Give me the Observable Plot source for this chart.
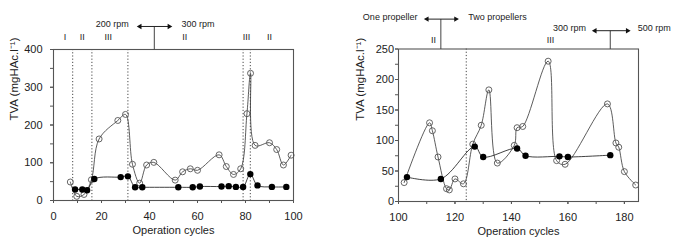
<!DOCTYPE html>
<html>
<head>
<meta charset="utf-8">
<script src="https://cdn.jsdelivr.net/npm/d3@7"></script>
<script src="https://cdn.jsdelivr.net/npm/@observablehq/plot@0.6"></script>
<style>
  html, body { margin: 0; padding: 0; background: white; }
  #wrap { position: relative; width: 679px; height: 252px; overflow: hidden; }
  #wrap > div, #wrap > svg { position: absolute; top: 0; }
</style>
</head>
<body>
<div id="wrap"></div>
<script>
// ---------- Data: left panel (cycles 0-100) ----------
const leftOpenX  = [7, 9.7, 12.7, 15.8, 19, 26.8, 30, 32.9, 35.9, 38.8, 41.8, 50.7, 53.8, 57, 60, 69, 72, 75, 78, 80.6, 82.1, 84, 90, 93, 95.8, 99];
const leftOpenY  = [49, 11, 16, 55, 163, 212, 228, 96, 46, 94, 101, 54, 76, 84, 80, 121, 90, 69, 84, 230, 337, 146, 153, 135, 94, 120];
const leftFillX  = [9, 12, 14, 17, 28, 31, 34, 37, 52, 58, 61, 70, 73, 76, 79, 82, 85, 91, 97];
const leftFillY  = [29, 29, 27, 57, 62, 64, 35, 35, 35, 35, 37, 37, 38, 36, 36, 70, 40, 36, 36];
const leftDividers = [8, 16, 31, 79, 82];
const leftPhaseLabels = ["I", "II", "III", "II", "III", "II"];
const leftPhaseX = [4.8, 12, 22.8, 54.7, 80.4, 90];
const leftXMajor = [0, 20, 40, 60, 80, 100];
const leftXMinor = [0, 10, 20, 30, 40, 50, 60, 70, 80, 90, 100];
const leftYMajor = [0, 100, 200, 300, 400];
const leftYMinor = [0, 50, 100, 150, 200, 250, 300, 350, 400];

// ---------- Data: right panel (cycles 100-185) ----------
const rightOpenX = [102, 111, 112, 114, 117, 118, 120, 123, 126.3, 129.3, 132, 135, 141, 142, 144, 153, 156, 159, 174, 177, 178, 180, 184];
const rightOpenY = [31, 129, 116, 73, 21, 19, 37, 29, 94, 125, 183, 63, 92, 121, 123, 230, 67, 61, 160, 96, 89, 49, 27];
const rightFillX = [103, 115, 127, 130, 142, 145, 157, 160, 175];
const rightFillY = [40, 37, 90, 73, 87, 75, 74, 73, 76];
const rightDividers = [124];
const rightPhaseLabels = ["II", "III"];
const rightPhaseX = [112.4, 153.8];
const rightXMajor = [100, 120, 140, 160, 180];
const rightXMinor = [100, 110, 120, 130, 140, 150, 160, 170, 180];
const rightYMajor = [0, 50, 100, 150, 200, 250];
const rightYMinor = [0, 25, 50, 75, 100, 125, 150, 175, 200, 225, 250];

// ---------- Annotations (in data units) ----------
const leftArrows = [{x: 42, yBase: 400, yTop: 461, xL: 36, xR: 48.2, leftText: "200 rpm", rightText: "300 rpm", xTextL: 31.4, xTextR: 53.3, yText: 466}];
const rightArrows = [
  {x: 115, yBase: 250, yTop: 299, xL: 110.1, xR: 120.3, leftText: "One propeller", rightText: "Two propellers", xTextL: 106.7, xTextR: 124.7, yText: 303},
  {x: 175, yBase: 250, yTop: 280, xL: 169.6, xR: 181.1, leftText: "300 rpm", rightText: "500 rpm", xTextL: 166.4, xTextR: 184.7, yText: 284}
];
const leftPhaseY = 432;
const rightPhaseY = 264;

const yLabel = "TVA (mgHAc.l\u207B\u00B9)";
const xLabel = "Operation cycles";
const font = "'Liberation Sans', Arial, Helvetica, sans-serif";

const zip = (xs, ys) => xs.map((x, i) => ({x, y: ys[i]}));

function panel(o) {
  const open = zip(o.openX, o.openY);
  const fill = zip(o.fillX, o.fillY);
  const phases = o.phaseLabels.map((t, i) => ({t, x: o.phaseX[i], y: o.phaseY}));
  const arrowHeads = o.arrows.flatMap(a => [{x: a.xL, y: a.yTop, r: -90}, {x: a.xR, y: a.yTop, r: 90}]);
  return Plot.plot({
    width: o.width, height: 252,
    marginLeft: o.ml, marginRight: o.mr, marginTop: o.mt, marginBottom: o.mb,
    style: {fontFamily: font, fontSize: "11px", color: "#222", background: "transparent", overflow: "visible"},
    x: {domain: o.xDomain, label: null},
    y: {domain: o.yDomain, label: null},
    marks: [
      Plot.ruleX(o.dividers, {stroke: "#333", strokeWidth: 0.9, strokeDasharray: "1.2,2"}),
      Plot.axisX({ticks: o.xMinor, tickFormat: () => "", tickSize: 3, stroke: "#555", label: null}),
      Plot.axisX({ticks: o.xMajor, tickSize: 3, tickPadding: 9, stroke: "#555", label: null, fontSize: 11}),
      Plot.axisY({ticks: o.yMinor, tickFormat: () => "", tickSize: 3, stroke: "#555", label: null}),
      Plot.axisY({ticks: o.yMajor, tickSize: 3, tickPadding: o.yPad, stroke: "#555", label: null, fontSize: 11}),
      Plot.frame({stroke: "#555", strokeWidth: 1.1}),
      Plot.line(open, {x: "x", y: "y", curve: "catmull-rom", stroke: "#333", strokeWidth: 0.8}),
      Plot.line(fill, {x: "x", y: "y", curve: "catmull-rom", stroke: "#111", strokeWidth: 0.8}),
      Plot.dot(open, {x: "x", y: "y", r: 3, stroke: "#555", strokeWidth: 0.9, fill: "none"}),
      Plot.dot(fill, {x: "x", y: "y", r: 3.2, fill: "#000", stroke: "none"}),
      Plot.text(phases, {x: "x", y: "y", text: "t", fontSize: 9, fill: "#222"}),
      // arrow annotations
      Plot.link(o.arrows, {x1: "x", x2: "x", y1: "yBase", y2: "yTop", stroke: "#444", strokeWidth: 1}),
      Plot.link(o.arrows, {x1: "xL", x2: "xR", y1: "yTop", y2: "yTop", stroke: "#222", strokeWidth: 1}),
      Plot.dot(arrowHeads, {x: "x", y: "y", symbol: "triangle2", r: 2.6, rotate: "r", fill: "#111"}),
      Plot.text(o.arrows, {x: "xTextL", y: "yText", text: "leftText", textAnchor: "end", fontSize: 9, fill: "#222"}),
      Plot.text(o.arrows, {x: "xTextR", y: "yText", text: "rightText", textAnchor: "start", fontSize: 9, fill: "#222"}),
      // axis titles
      Plot.text([xLabel], {frameAnchor: "bottom", dy: 33.5, text: d => d, fontSize: 11, fill: "#222"}),
      Plot.text([yLabel], {frameAnchor: "left", dx: o.yLabelDx, dy: -4.5, rotate: -90, text: d => d, fontSize: 11.5, fill: "#222"})
    ]
  });
}

const leftChart = panel({
  width: 340, ml: 53, mr: 47, mt: 49, mb: 52,
  xDomain: [0, 100], yDomain: [0, 400],
  openX: leftOpenX, openY: leftOpenY, fillX: leftFillX, fillY: leftFillY,
  dividers: leftDividers, phaseLabels: leftPhaseLabels, phaseX: leftPhaseX, phaseY: leftPhaseY,
  xMajor: leftXMajor, xMinor: leftXMinor, yMajor: leftYMajor, yMinor: leftYMinor,
  arrows: leftArrows, yPad: 8, yLabelDx: -39
});
const rightChart = panel({
  width: 340, ml: 59, mr: 41, mt: 48.5, mb: 51,
  xDomain: [100, 185], yDomain: [0, 250],
  openX: rightOpenX, openY: rightOpenY, fillX: rightFillX, fillY: rightFillY,
  dividers: rightDividers, phaseLabels: rightPhaseLabels, phaseX: rightPhaseX, phaseY: rightPhaseY,
  xMajor: rightXMajor, xMinor: rightXMinor, yMajor: rightYMajor, yMinor: rightYMinor,
  arrows: rightArrows, yPad: 1.5, yLabelDx: -38.5
});
const wrap = document.getElementById("wrap");
leftChart.style.left = "0px";
rightChart.style.left = "339px";
wrap.appendChild(leftChart);
wrap.appendChild(rightChart);
</script>
</body>
</html>
